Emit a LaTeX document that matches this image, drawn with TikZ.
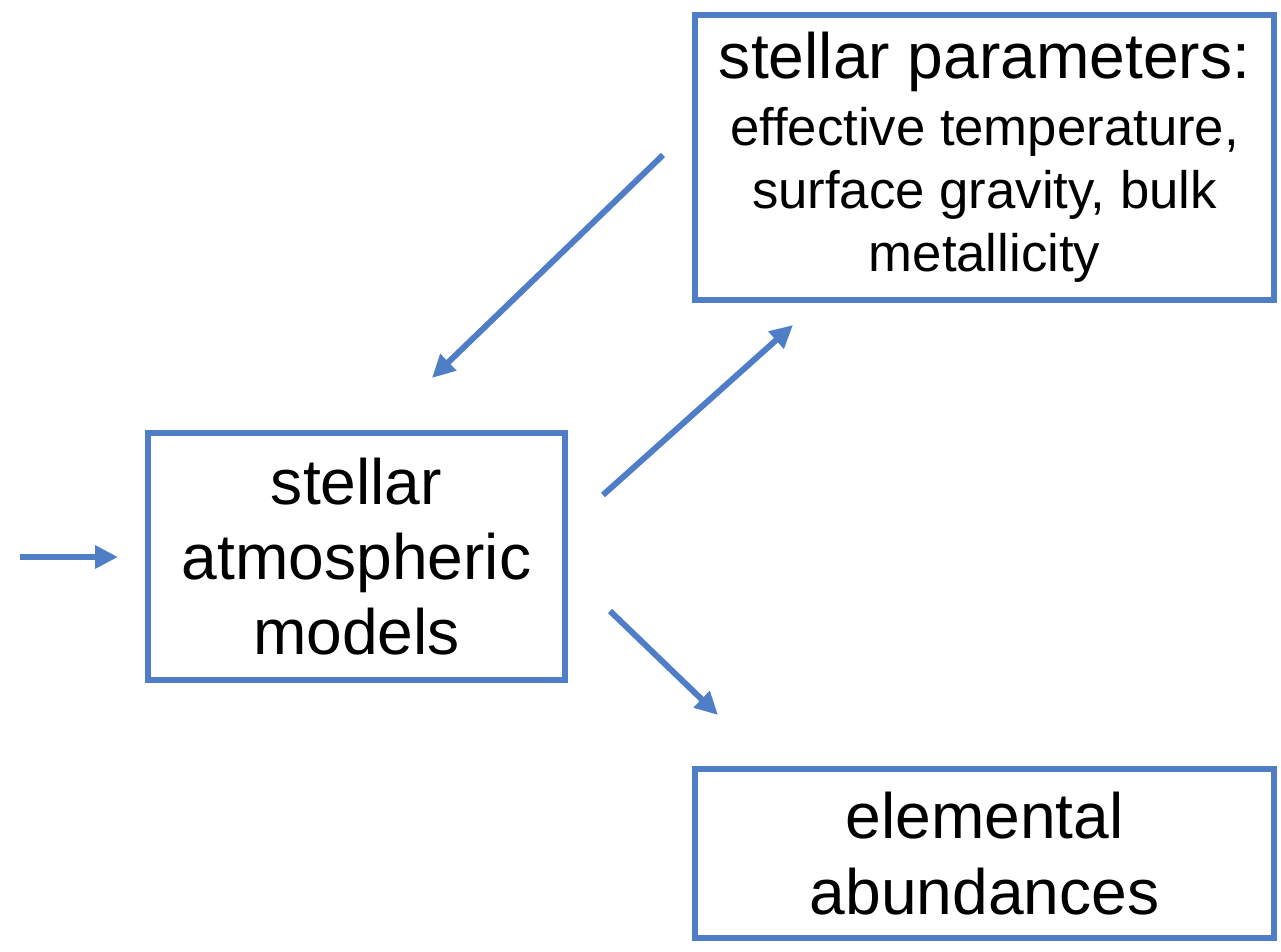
\documentclass[tikz,border=0pt]{standalone}
\usepackage{fontspec}
\setmainfont{Liberation Sans}
\usetikzlibrary{arrows.meta}
\definecolor{boxblue}{RGB}{79,126,199}

\begin{document}
\begin{tikzpicture}[x=0.02cm,y=-0.02cm,
   box/.style={draw=boxblue, line width=3.4pt, align=center, inner sep=0pt},
   flow/.style={draw=boxblue, line width=3.4pt, -{Triangle[length=13pt,width=12.5pt]}}]
\useasboundingbox (0,0) rectangle (1281,952);
% boxes
\node [box, minimum width=417*0.02cm, minimum height=247*0.02cm,
   font=\fontsize{36.5}{42.5}\selectfont] (models) at (356.5,556.5)
   {stellar\\atmospheric\\models};
\node [box, minimum width=579*0.02cm, minimum height=285*0.02cm,
   font=\fontsize{36.5}{40}\selectfont] (params) at (984.5,157.5)
   {stellar parameters:\\[-2pt]
   {\fontsize{30}{35}\selectfont effective temperature,}\\[-4pt]
   {\fontsize{30}{35}\selectfont surface gravity, bulk}\\[-4pt]
   {\fontsize{30}{35}\selectfont metallicity}};
\node [box, minimum width=579*0.02cm, minimum height=169*0.02cm,
   font=\fontsize{36.5}{43}\selectfont] (abund) at (984.5,853.5)
   {elemental\\abundances};
% arrow ends
\coordinate (in) at (20,557);
\coordinate (pA) at (663,155);
\coordinate (pB) at (432,378);
\coordinate (mA) at (603,495);
\coordinate (mB) at (793,325);
\coordinate (mC) at (610,611);
\coordinate (aC) at (718,715);
\draw [flow] (in) -- (118,557);
\draw [flow] (pA) -- (pB);
\draw [flow] (mA) -- (mB);
\draw [flow] (mC) -- (aC);
\end{tikzpicture}
\end{document}
